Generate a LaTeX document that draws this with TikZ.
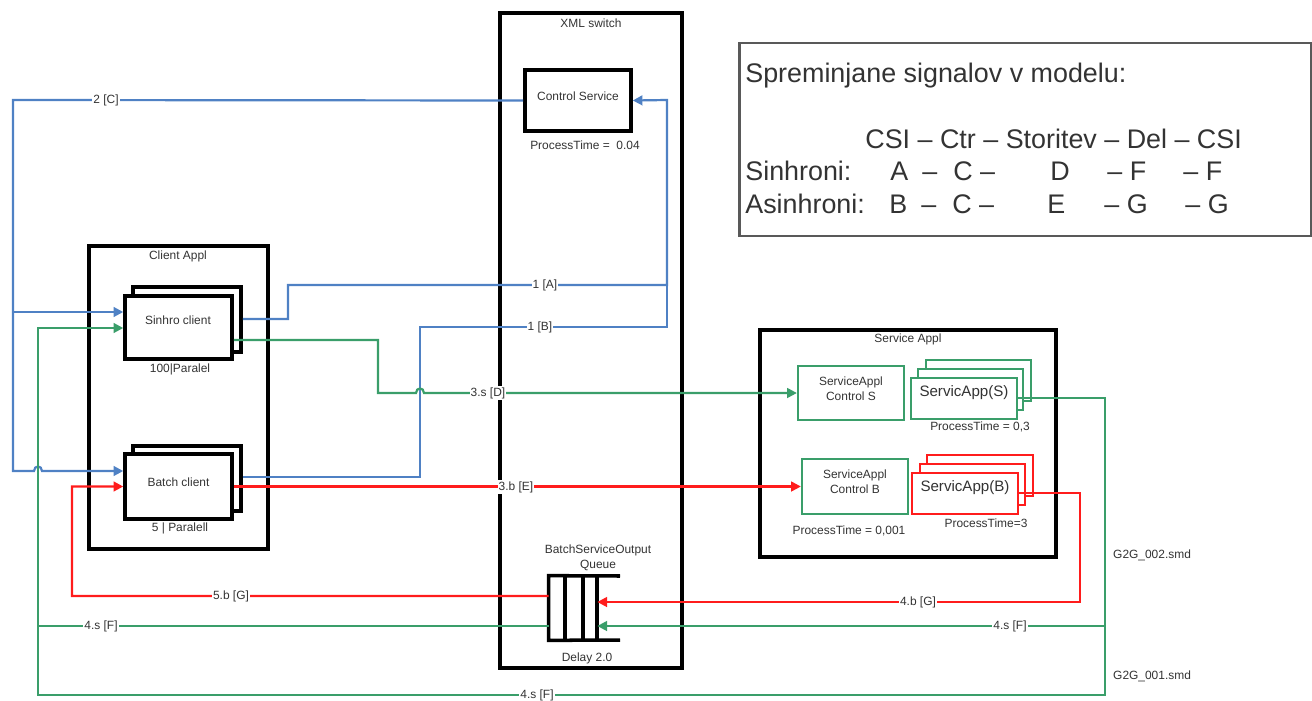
\documentclass[tikz,border=0pt]{standalone}
\usepackage{fontspec}
\setmainfont{Liberation Sans}
\usepackage{tikz}
\usetikzlibrary{arrows.meta, fit}
\definecolor{sigblue}{RGB}{79,129,196}
\definecolor{siggreen}{RGB}{58,158,106}
\definecolor{sigred}{RGB}{255,28,28}
\colorlet{txt}{black!80}
\newcommand{\lblfont}{\fontsize{6.8}{8.5}\selectfont}
\newcommand{\appfont}{\fontsize{8.6}{10}\selectfont}
\newcommand{\legfont}{\fontsize{15.3}{18}\selectfont}

\begin{document}
\begin{tikzpicture}[x=0.02cm, y=-0.02cm,
  every node/.style={text=txt},
  blk/.style={draw=black, line width=2pt, fill=white, inner sep=0pt, font=\lblfont},
  gbox/.style={draw=siggreen, line width=1.3pt, fill=white, inner sep=0pt, align=center, font=\lblfont},
  rbox/.style={draw=sigred, line width=1.5pt, fill=white, inner sep=0pt, font=\appfont},
  sig/.style={line width=1.25pt},
  tip/.style={-{Triangle[length=5.5pt, width=5.5pt]}},
  lbl/.style={font=\lblfont, fill=white, inner sep=0.6pt},
  legtext/.style={font=\legfont, anchor=base west, inner sep=0pt}]
  \useasboundingbox (0,0) rectangle (1312,700);
  % containers
  \node[blk, fit={(500,13) (682,668)}] (xml) {};
  \node[font=\lblfont] (xmlname) at (591,23) {XML switch};
  \node[blk, fit={(89,246) (268,549)}] (client) {};
  \node[font=\lblfont] (clientname) at (178,256) {Client Appl};
  \node[blk, fit={(760,330) (1056,557)}] (service) {};
  \node[font=\lblfont] (servicename) at (908,339) {Service Appl};
  % legend
  \node[draw=black!65, line width=1.7pt, fit={(739,43) (1311,236)}, inner sep=0pt] (legend) {};
  \node[legtext] (legtitle) at (745,82) {Spreminjane signalov v modelu:};
  \node[legtext] (leghead) at (865,148) {CSI – Ctr – Storitev – Del – CSI};
  \foreach \t/\x [count=\i] in {Sinhroni:/745, A/890, –/922, C –/953, D/1050, – F/1107, – F/1183}
    \node[legtext] (sync\i) at (\x,180) {\t};
  \foreach \t/\x [count=\i] in {Asinhroni:/745, B/889, –/921, C –/952, E/1047, – G/1104, – G/1185}
    \node[legtext] (async\i) at (\x,213) {\t};
  % XML switch content
  \node[blk, fit={(525,70) (631,131)}] (ctrl) {Control Service};
  \node[font=\lblfont] (ctrltime) at (585,145) {ProcessTime = \ 0.04};
  \node[fit={(549,576) (597,640)}, inner sep=0pt] (queue) {};
  \draw[line width=2pt] (620,576) -- (queue.north west) -- (queue.south west) -- (620,640);
  \foreach \x in {565,583,597}
    \draw[line width=2pt] (\x,576) -- (\x,640);
  \node[font=\lblfont, align=center] (queuename) at (598,558) {BatchServiceOutput\\Queue};
  \node[font=\lblfont] (queuedelay) at (587,658) {Delay 2.0};
  % clients
  \node[blk, fit={(133,287) (241,352)}] (sinhroback) {};
  \node[blk, fit={(125,296) (232,359)}] (sinhro) {};
  \node[font=\lblfont] (sinhroname) at (178,320) {Sinhro client};
  \node[font=\lblfont] (sinhropar) at (180,369) {100|Paralel};
  \node[blk, fit={(133,446) (241,511)}] (batchback) {};
  \node[blk, fit={(125,454) (232,519)}] (batch) {Batch client};
  \node[font=\lblfont] (batchpar) at (180,528) {5 | Paralell};
  % services
  \node[gbox, fit={(798,366) (904,420)}] (ctrlS) {ServiceAppl\\Control S};
  \node[gbox, fit={(926,360) (1031,401)}] (appS3) {};
  \node[gbox, fit={(918,369) (1023,410)}] (appS2) {};
  \node[gbox, fit={(911,378) (1017,419)}, font=\appfont] (appS) {ServicApp(S)};
  \node[font=\lblfont] (appStime) at (980,427) {ProcessTime = 0,3};
  \node[gbox, fit={(802,459) (908,514)}] (ctrlB) {ServiceAppl\\Control B};
  \node[font=\lblfont] (ctrlBtime) at (849,531) {ProcessTime = 0,001};
  \node[rbox, fit={(927,455) (1033,496)}] (appB3) {};
  \node[rbox, fit={(920,464) (1025,505)}] (appB2) {};
  \node[rbox, fit={(912,473) (1018,514)}] (appB) {ServicApp(B)};
  \node[font=\lblfont] (appBtime) at (986,523) {ProcessTime=3};
  % blue signals
  \coordinate (csplit) at (13,312);
  \draw[sig, sigblue] (ctrl.west) -- (13,100) -- (csplit);
  \draw[sig, sigblue, tip] (csplit) -- (sinhro.west |- csplit);
  \draw[sig, sigblue, tip] (csplit) -- (13,471) -- (34,471) .. controls (34,465) and (42,465) .. (42,471) -- (batch.west |- 0,471);
  \draw[sig, sigblue, tip] (sinhroback.east |- 0,319) -- (288,319) -- (288,285) -- (667,285) -- (667,100) -- (ctrl.east);
  \draw[sig, sigblue] (batchback.east |- 0,477) -- (420,477) -- (420,327) -- (667,327) -- (667,285);
  % green signals
  \draw[sig, siggreen, tip] (sinhro.east |- 0,340) -- (378,340) -- (378,393) -- (416,393) .. controls (416,387) and (424,387) .. (424,393) -- (ctrlS.west);
  \coordinate (fsplit) at (1105,626);
  \coordinate (fleft) at (38,626);
  \draw[sig, siggreen, tip] (appS.east |- 0,398) -- (1105,398) -- (1105,695) -- (38,695) -- (38,328) -- (sinhro.west |- 0,328);
  \draw[sig, siggreen, tip] (fsplit) -- (queue.east |- fsplit);
  \draw[sig, siggreen] (queue.west |- fleft) -- (fleft);
  % red signals
  \draw[sig, sigred, tip] (batch.east) -- (ctrlB.west);
  \draw[sig, sigred, tip] (appB.east |- 0,493) -- (1080,493) -- (1080,602) -- (queue.east |- 0,602);
  \draw[sig, sigred, tip] (queue.west |- 0,596) -- (72,596) -- (72,486.5) -- (batch.west);
  % signal labels
  \node[lbl] (lblC) at (106,100) {2 [C]};
  \node[lbl] (lblA) at (545,285) {1 [A]};
  \node[lbl] (lblB) at (540,327) {1 [B]};
  \node[lbl] (lblD) at (488,393) {3.s [D]};
  \node[lbl] (lblE) at (516,487) {3.b [E]};
  \node[lbl] (lblG5) at (231,596) {5.b [G]};
  \node[lbl] (lblG4) at (918,602) {4.b [G]};
  \node[lbl] (lblFl) at (101,626) {4.s [F]};
  \node[lbl] (lblFr) at (1010,626) {4.s [F]};
  \node[lbl] (lblFb) at (537,695) {4.s [F]};
  \node[font=\lblfont, anchor=west] (g2gtwo) at (1107,555) {G2G\_002.smd};
  \node[font=\lblfont, anchor=west] (g2gone) at (1107,676) {G2G\_001.smd};
\end{tikzpicture}
\end{document}
